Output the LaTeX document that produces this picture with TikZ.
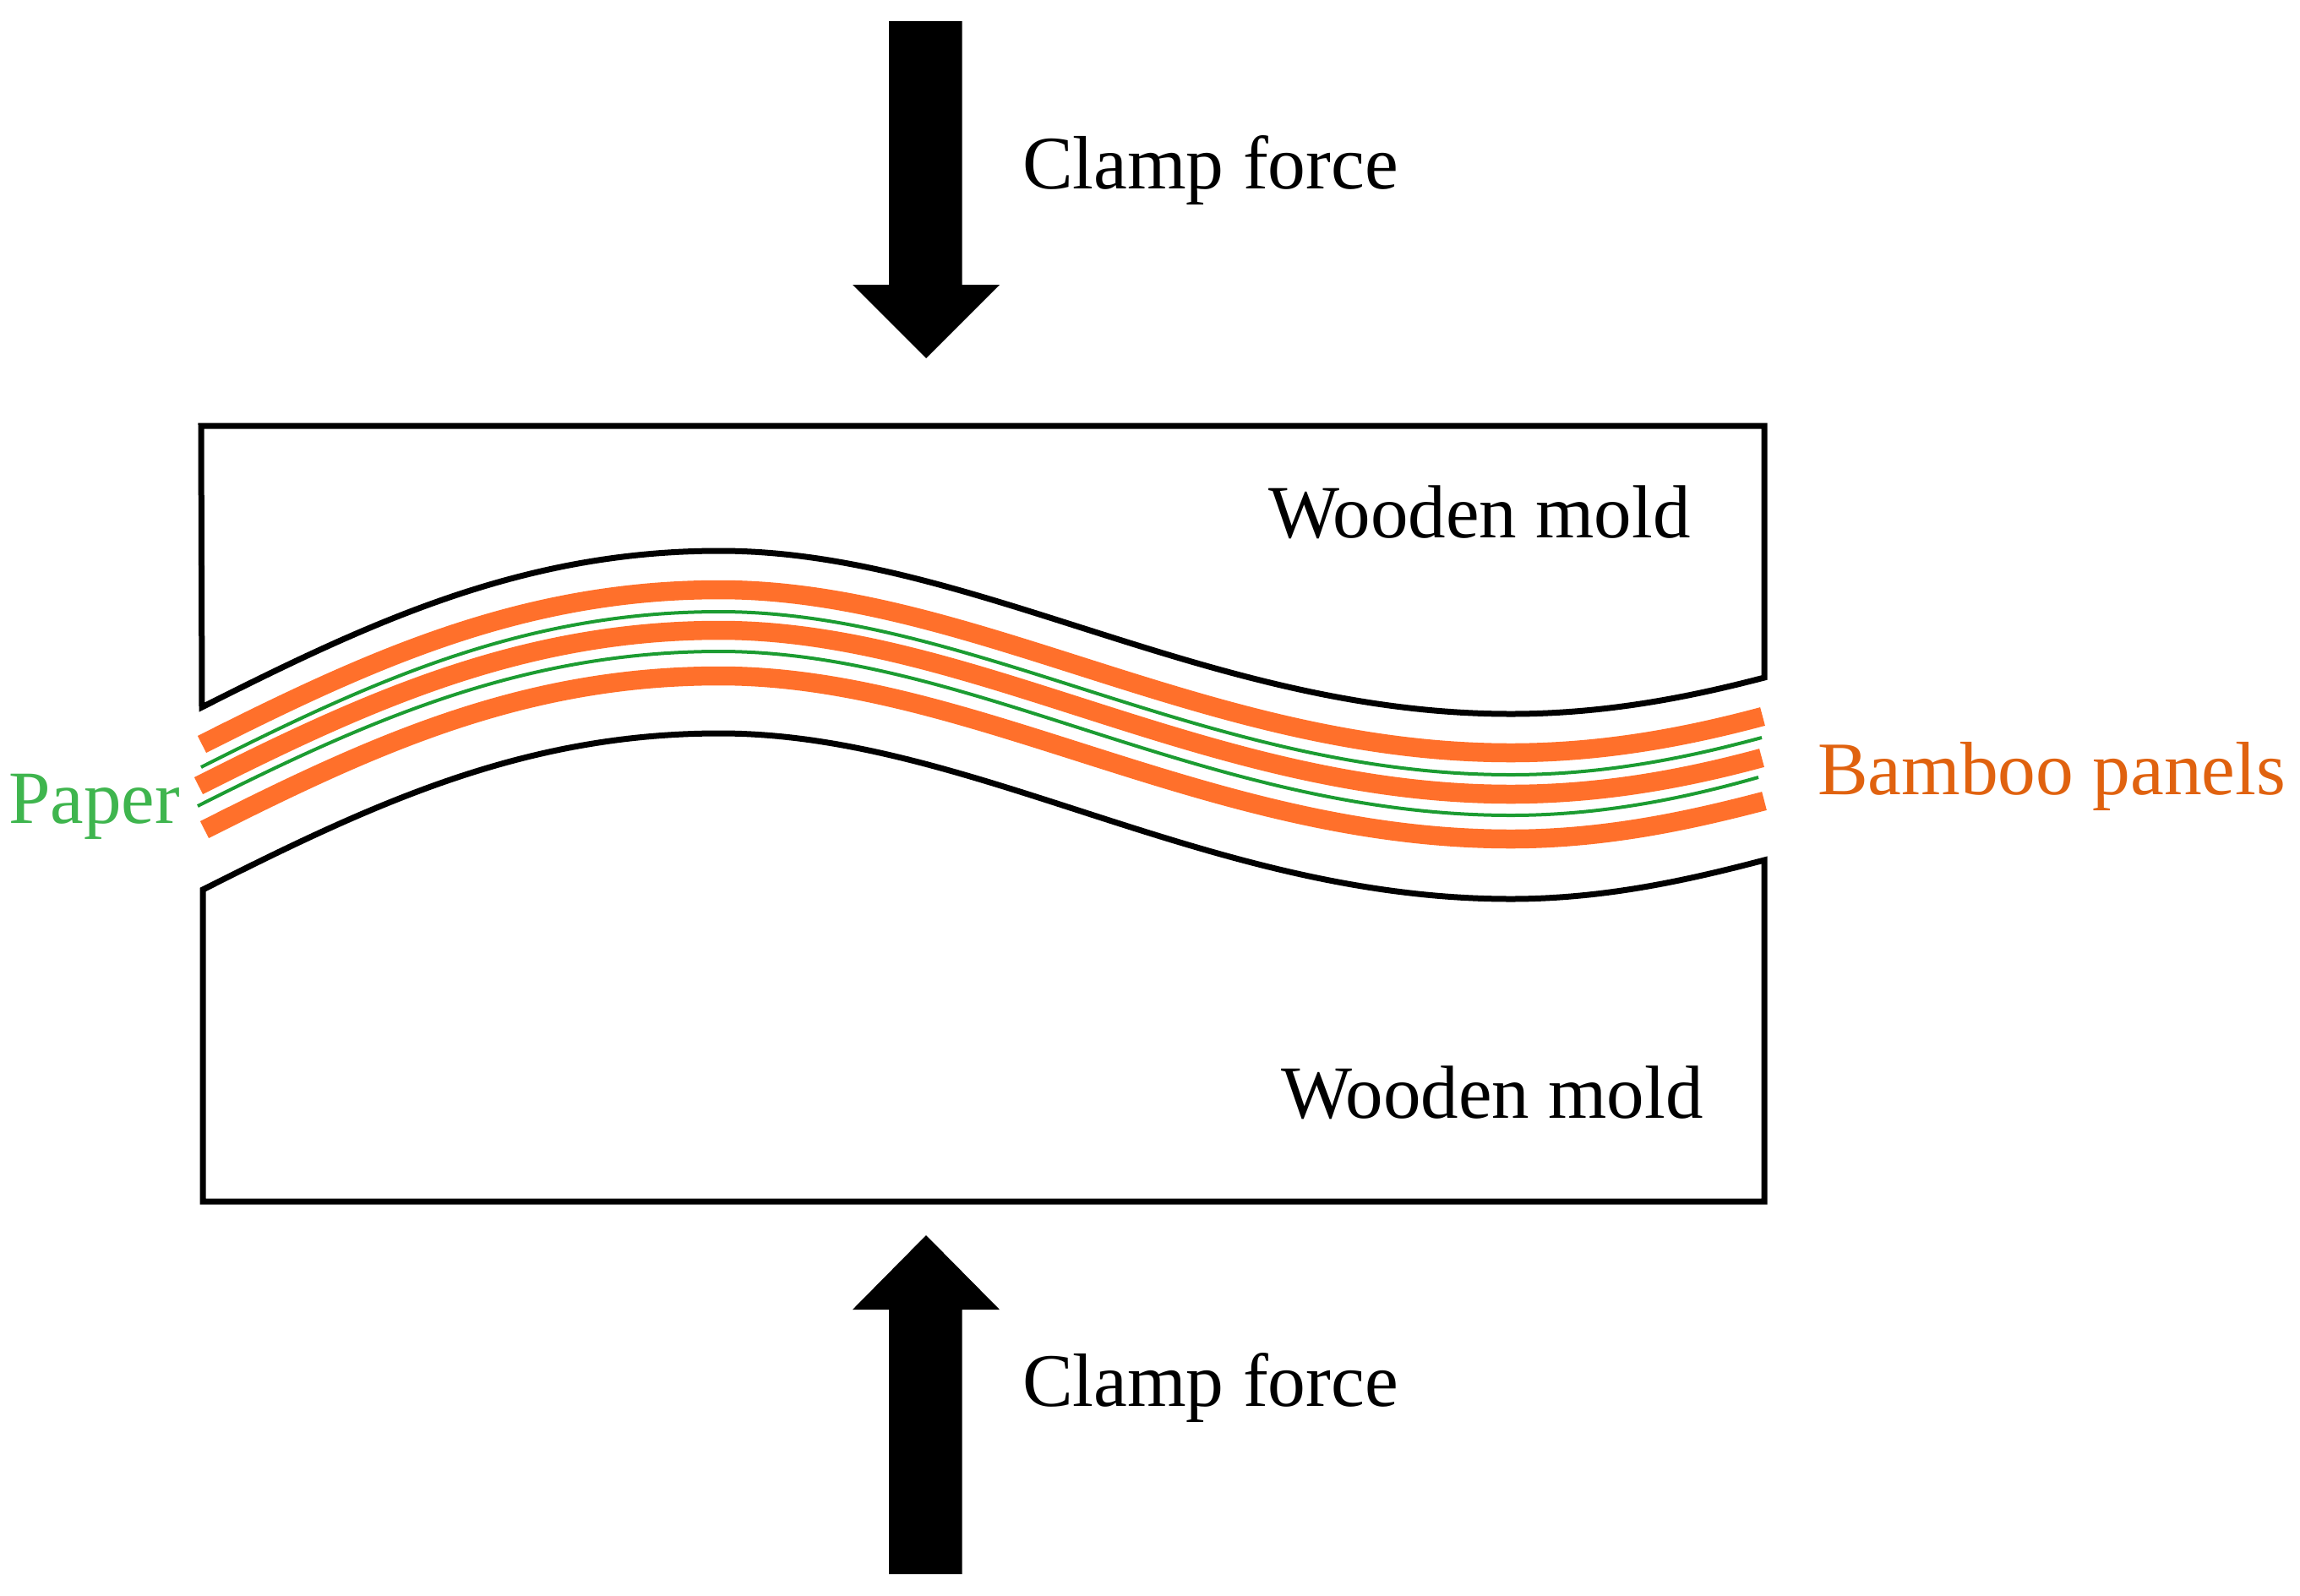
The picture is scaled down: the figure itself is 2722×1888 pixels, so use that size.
\documentclass[tikz,border=0pt]{standalone}
\usepackage{fontspec}
\setmainfont{Liberation Serif}
\definecolor{panel}{HTML}{FF702B}
\definecolor{paperline}{HTML}{1C9C32}
\definecolor{papertext}{HTML}{3FB54E}
\definecolor{bambootext}{HTML}{E0620F}
% x0,y0 start; y1 crest; y2 trough; x3,y3 end
\newcommand{\wavepart}[6]{(#1,#2) .. controls ({#1+202},{#2-102}) and (620,#3) .. (852,#3) .. controls (1150,#3) and (1430,#4) .. (1788,#4) .. controls (1900,#4) and (2000,{#6+23}) .. (#5,#6)}
\tikzset{
  x=1pt,y=-1pt,
  mold/.style={draw=black,line width=7pt,line join=miter},
  bamboo/.style={draw=panel,line width=22.5pt},
  paperstrip/.style={draw=paperline,line width=4pt},
  forcearrow/.style={fill=black,draw=none},
  lbl/.style={inner sep=0pt,outer sep=0pt,anchor=base west,font=\fontsize{89}{100}\selectfont},
  widelbl/.style={lbl,font=\fontsize{89.5}{100}\selectfont},
}
\begin{document}
\begin{tikzpicture}
\useasboundingbox (0,0) rectangle (2722,1888);
% arrows
\fill[forcearrow] (1052,25) -- (1138.5,25) -- (1138.5,337) -- (1183,337) -- (1096,424) -- (1009,337) -- (1052,337) -- cycle;
\fill[forcearrow] (1052,1863) -- (1138.5,1863) -- (1138.5,1550) -- (1183,1550) -- (1096,1462) -- (1009,1550) -- (1052,1550) -- cycle;
% molds
\draw[mold] \wavepart{239}{837}{652}{845}{2088}{802} -- (2088,504) -- (238,504) -- cycle;
\draw[mold] \wavepart{240}{1053}{868}{1064}{2088}{1018} -- (2088,1422) -- (240,1422) -- cycle;
% layers
\draw[bamboo] \wavepart{239}{881}{698}{891}{2086}{848};
\draw[paperstrip] \wavepart{238}{908}{724}{917}{2085}{873};
\draw[bamboo] \wavepart{235}{930}{746}{940}{2085}{897};
\draw[paperstrip] \wavepart{234}{954}{771}{965}{2081}{920};
\draw[bamboo] \wavepart{242}{982}{800}{993}{2088}{948};
% labels
\node[widelbl] (clamptop) at (1210,223) {Clamp force};
\node[lbl] (moldtop) at (1501,636) {Wooden mold};
\node[lbl] (moldbottom) at (1516,1323) {Wooden mold};
\node[widelbl] (clampbottom) at (1210,1664) {Clamp force};
\node[widelbl,text=bambootext] (bamboolabel) at (2151,940) {Bamboo panels};
\node[lbl,text=papertext] (paperlabel) at (10,974) {Paper};
\end{tikzpicture}
\end{document}
